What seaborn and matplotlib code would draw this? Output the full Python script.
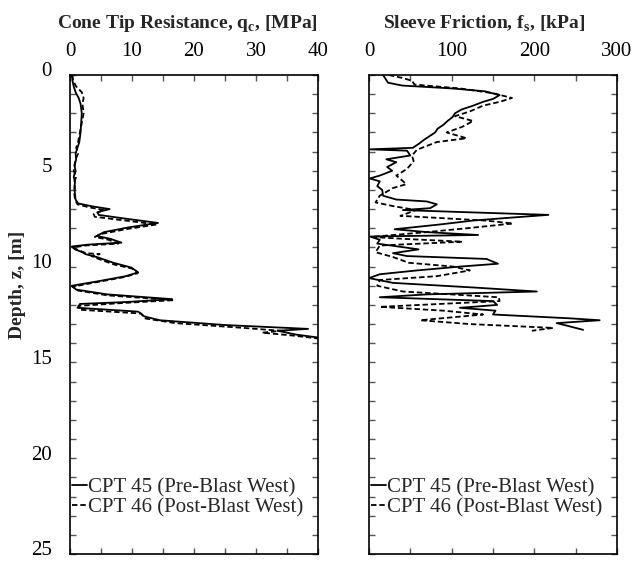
import numpy as np
import pandas as pd
import matplotlib
matplotlib.use("Agg")
import matplotlib.pyplot as plt
from matplotlib.ticker import MultipleLocator
from matplotlib.transforms import ScaledTranslation
import seaborn as sns

# ---- cone tip resistance, q_c [MPa] ----
qc_pre_depth = [0.0, 0.3, 0.6, 0.9, 1.2, 1.5, 2.0, 2.5, 3.0, 3.5, 3.8, 4.1, 4.4, 4.7, 5.0,
                5.3, 5.6, 5.9, 6.2, 6.5, 6.7, 6.85, 7.0, 7.15, 7.3, 7.5, 7.72, 7.95, 8.2,
                8.4, 8.55, 8.75, 8.85, 8.95, 9.1, 9.25, 9.35, 9.5, 9.8, 10.05, 10.3, 10.5,
                10.75, 11.0, 11.2, 11.45, 11.7, 11.85, 11.95, 12.15, 12.35, 12.6, 12.8,
                13.05, 13.25, 13.35, 13.55, 13.7]
qc_pre = [0.3, 0.4, 0.6, 0.9, 1.4, 1.7, 1.9, 1.8, 1.7, 1.5, 1.2, 0.9, 1.0, 0.7, 0.9,
          0.6, 0.8, 0.7, 0.8, 0.9, 1.3, 3.5, 6.4, 4.5, 4.6, 9.0, 14.2, 9.5, 5.5,
          4.3, 6.5, 8.3, 3.0, 0.3, 0.8, 2.0, 2.5, 4.3, 7.0, 9.9, 11.0, 9.0,
          4.8, 0.3, 1.0, 6.0, 16.5, 9.0, 1.6, 1.2, 11.0, 12.0, 14.5,
          25.0, 38.4, 33.5, 36.5, 40.0]

qc_post_depth = [0.0, 0.3, 0.6, 0.9, 1.2, 1.5, 2.0, 2.5, 3.0, 3.5, 3.8, 4.1, 4.4, 4.7, 5.0,
                 5.3, 5.6, 5.9, 6.2, 6.5, 6.75, 6.9, 7.05, 7.25, 7.4, 7.6, 7.8, 8.05, 8.3,
                 8.45, 8.6, 8.8, 8.9, 9.0, 9.15, 9.3, 9.35, 9.45, 9.6, 9.9, 10.1, 10.35,
                 10.55, 10.8, 11.05, 11.25, 11.5, 11.75, 11.9, 12.05, 12.25, 12.45, 12.7,
                 12.95, 13.2, 13.35, 13.45, 13.6, 13.75]
qc_post = [0.4, 0.5, 1.0, 1.9, 2.2, 2.0, 2.2, 1.9, 1.6, 1.3, 1.0, 1.3, 0.9, 0.8, 0.6,
           1.0, 0.7, 0.8, 0.7, 0.8, 1.2, 3.0, 5.5, 3.8, 4.0, 9.0, 14.0, 9.0, 5.0,
           4.0, 6.2, 7.8, 2.5, 0.5, 1.4, 2.6, 4.8, 3.5, 4.6, 7.2, 10.0, 10.9,
           8.7, 4.5, 0.4, 1.3, 6.0, 16.8, 8.5, 1.4, 1.5, 11.5, 12.0,
           17.0, 28.0, 34.0, 31.0, 36.0, 40.0]

# ---- sleeve friction, f_s [kPa] ----
fs_pre_depth = [0.0, 0.2, 0.4, 0.55, 0.7, 0.85, 1.05, 1.25, 1.4, 1.6, 1.8, 2.0, 2.2, 2.4,
                2.6, 2.8, 3.0, 3.2, 3.4, 3.6, 3.8, 3.88, 3.95, 4.2, 4.4, 4.55, 4.8, 5.0,
                5.25, 5.4, 5.55, 5.8, 6.0, 6.3, 6.5, 6.6, 6.75, 6.95, 7.05, 7.15, 7.3,
                7.45, 7.6, 7.8, 8.05, 8.2, 8.35, 8.43, 8.6, 8.8, 9.1, 9.3, 9.45, 9.6,
                9.85, 10.0, 10.2, 10.4, 10.6, 10.85, 11.1, 11.3, 11.45, 11.6, 11.8, 12.0,
                12.15, 12.3, 12.5, 12.7, 12.8, 12.95, 13.1, 13.3]
fs_pre = [17, 20, 23, 40, 100, 140, 158, 150, 138, 126, 112, 104, 101, 95,
          90, 83, 80, 73, 66, 60, 53, 1, 46, 50, 21, 33, 22, 28,
          13, 1, 13, 10, 16, 17, 33, 70, 82, 74, 41, 110, 217,
          170, 125, 86, 31, 70, 132, 1, 13, 10, 60, 29, 46, 142,
          156, 110, 58, 13, 0, 29, 130, 203, 70, 13, 150, 155,
          110, 153, 150, 243, 279, 227, 241, 259]

fs_post_depth = [0.0, 0.15, 0.3, 0.5, 0.7, 0.95, 1.2, 1.4, 1.6, 1.9, 2.15, 2.4, 2.7, 3.0,
                 3.3, 3.5, 3.9, 4.2, 4.5, 4.9, 5.25, 5.5, 5.7, 5.9, 6.3, 6.65, 6.85, 7.05,
                 7.35, 7.6, 7.75, 8.0, 8.2, 8.45, 8.55, 8.7, 8.9, 9.25, 9.5, 9.8, 10.0,
                 10.2, 10.5, 10.7, 11.0, 11.3, 11.6, 11.8, 12.1, 12.3, 12.5, 12.8, 13.0,
                 13.2, 13.35]
fs_post = [24, 40, 52, 55, 110, 150, 173, 158, 138, 122, 104, 126, 113, 94,
           118, 82, 58, 52, 54, 46, 33, 40, 45, 29, 13, 8, 30, 57,
           38, 142, 174, 118, 70, 3, 41, 113, 13, 8, 29, 48, 102,
           122, 82, 13, 10, 41, 157, 158, 13, 90, 138, 62, 122,
           223, 197]

series_names = ["CPT 45 (Pre-Blast West)", "CPT 46 (Post-Blast West)"]

sns.set_theme(style="white")
plt.rcParams["font.family"] = ["Liberation Serif", "DejaVu Serif"]
plt.rcParams["mathtext.fontset"] = "custom"
plt.rcParams["mathtext.rm"] = "Liberation Serif"
plt.rcParams["mathtext.bf"] = "Liberation Serif:bold"
plt.rcParams["axes.edgecolor"] = "black"
plt.rcParams["axes.linewidth"] = 1.2

TICK_FS = 15
LEG_FS = 15
LABEL_FS = 14

fig = plt.figure(figsize=(6.33, 5.61), dpi=100)
ax1 = fig.add_axes([70 / 633, 7 / 561, 248 / 633, 479 / 561])
ax2 = fig.add_axes([369 / 633, 7 / 561, 248 / 633, 479 / 561])

dash = (3, 1.6)


def profile(ax, depth_a, val_a, depth_b, val_b):
    da = pd.DataFrame({"depth": depth_a, "value": val_a})
    db = pd.DataFrame({"depth": depth_b, "value": val_b})
    sns.lineplot(data=da, x="value", y="depth", sort=False, estimator=None,
                 color="black", lw=1.3, ax=ax, label=series_names[0])
    sns.lineplot(data=db, x="value", y="depth", sort=False, estimator=None,
                 color="black", lw=1.3, ax=ax, label=series_names[1],
                 dashes=False, linestyle=(0, dash))


profile(ax1, qc_pre_depth, qc_pre, qc_post_depth, qc_post)
profile(ax2, fs_pre_depth, fs_pre, fs_post_depth, fs_post)

ax1.set_xlim(0, 40)
ax2.set_xlim(0, 300)
ax1.xaxis.set_major_locator(MultipleLocator(10))
ax1.xaxis.set_minor_locator(MultipleLocator(5))
ax2.xaxis.set_major_locator(MultipleLocator(100))
ax2.xaxis.set_minor_locator(MultipleLocator(50))

for ax in (ax1, ax2):
    ax.set_ylim(25, 0)
    ax.yaxis.set_major_locator(MultipleLocator(5))
    ax.yaxis.set_minor_locator(MultipleLocator(1))
    ax.xaxis.tick_top()
    ax.xaxis.set_label_position("top")
    ax.tick_params(which="both", direction="in", top=True, bottom=True,
                   left=True, right=True, length=4, width=1.0, color="#555555",
                   labelsize=TICK_FS, labelcolor="black")
    ax.tick_params(axis="x", which="both", pad=10, labelbottom=False, labeltop=True)
    ax.tick_params(axis="y", which="both", pad=13)
    ax.set_ylabel("")
    for s in ax.spines.values():
        s.set_color("black")
    ax.legend(loc="center left", bbox_to_anchor=(0.0, 0.118), frameon=False,
              fontsize=LEG_FS, handlelength=0.7, handletextpad=0.08,
              labelspacing=0.0, borderpad=0, borderaxespad=0.1)

ax2.tick_params(axis="y", labelleft=False)

# depth labels sit slightly above their tick marks
lift = ScaledTranslation(0, 4 / 72, fig.dpi_scale_trans)
for lab in ax1.get_yticklabels():
    lab.set_transform(lab.get_transform() + lift)

ax1.set_xlabel(r"Cone Tip Resistance, q$_\mathbf{c}$, [MPa]", fontsize=LABEL_FS,
               fontweight="bold", labelpad=10)
ax2.set_xlabel(r"Sleeve Friction, f$_\mathbf{s}$, [kPa]", fontsize=LABEL_FS,
               fontweight="bold", labelpad=10)
ax1.xaxis.label.set_x(0.5 - 7 / 248)
ax2.xaxis.label.set_x(0.5 - 9 / 248)
fig.text(18 / 633, 1 - 285 / 561, "Depth, z, [m]", rotation=90, fontsize=LABEL_FS,
         fontweight="bold", ha="center", va="center")

fig.savefig("out.png", dpi=100)
